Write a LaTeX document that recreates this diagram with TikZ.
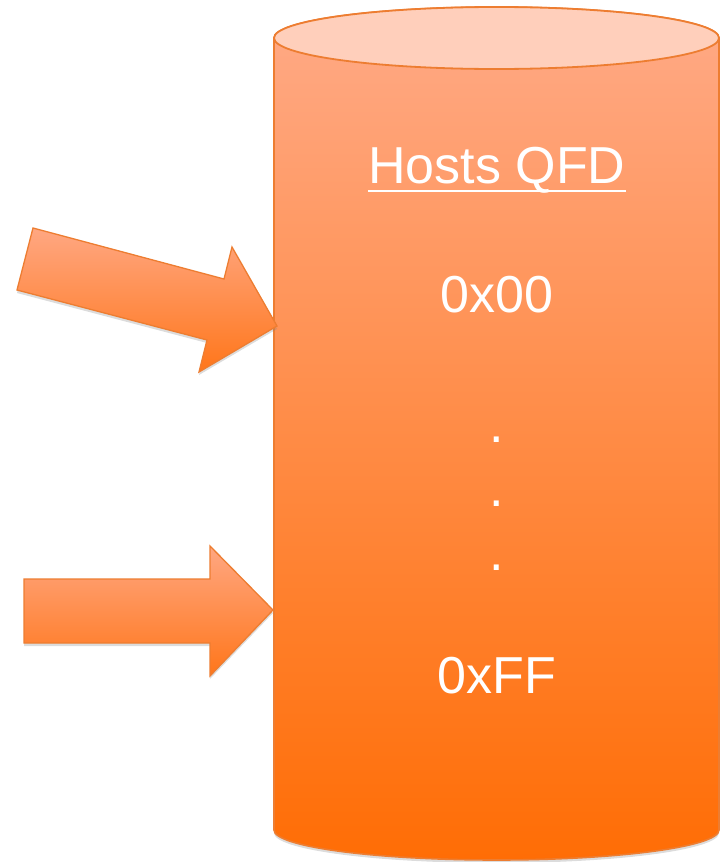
\documentclass[tikz,border=0pt]{standalone}
\usepackage{fontspec}
\setmainfont{Liberation Sans}
\usetikzlibrary{shadows}

\definecolor{rimorange}{HTML}{ED7D31}
\definecolor{lidfill}{HTML}{FFCFBB}
\definecolor{bodytop}{HTML}{FFAA87}
\definecolor{bodybottom}{HTML}{FF6D05}
\definecolor{arrowtop}{HTML}{FFA782}
\definecolor{arrowbottom}{HTML}{FF761A}

\tikzset{
  softshadow/.style={drop shadow={opacity=0.28, shadow xshift=0pt, shadow yshift=-3pt}},
  drumbody/.style={draw=rimorange, line width=1.6pt, top color=bodytop, bottom color=bodybottom, softshadow},
  drumlid/.style={draw=rimorange, line width=1.8pt, fill=lidfill},
  blockarrow/.style={draw=rimorange, line width=1.3pt, line join=miter, top color=arrowtop, bottom color=arrowbottom, softshadow},
  label/.style={text=white, inner sep=0pt, anchor=base, font=\fontsize{52}{60}\selectfont},
}

\begin{document}
\begin{tikzpicture}[x=1pt, y=-1pt]
  \useasboundingbox (0,0) rectangle (721,862);

  % cylinder body: sides and rounded bottom
  \path[drumbody] (274,38) -- (274,830)
      arc[start angle=180, end angle=360, x radius=222.5pt, y radius=30pt]
      -- (719,38)
      arc[start angle=0, end angle=180, x radius=222.5pt, y radius=31pt] -- cycle;
  % cylinder lid
  \path[drumlid] (496.5,38) ellipse [x radius=222.5pt, y radius=31pt];

  % slanted block arrow
  \path[blockarrow] (33,228) -- (224,279) -- (232,247) -- (277,326)
      -- (199,372) -- (207,340) -- (17,290) -- cycle;
  \coordinate (tipA) at (277,326);

  % horizontal block arrow
  \path[blockarrow] (24,579) -- (210,579) -- (210,546) -- (273,610)
      -- (210,676) -- (210,643) -- (24,643) -- cycle;
  \coordinate (tipB) at (273,610);

  % labels
  \node[label] (title) at (497,183) {Hosts QFD};
  \draw[white, line width=2.4pt] ([yshift=-8pt]title.base west) -- ([yshift=-8pt]title.base east);
  \node[label] (first) at (497,312) {0x00};
  \node[label] (dotA) at (497,442) {.};
  \node[label] (dotB) at (497,506) {.};
  \node[label] (dotC) at (497,570) {.};
  \node[label] (last) at (497,693) {0xFF};
\end{tikzpicture}
\end{document}
